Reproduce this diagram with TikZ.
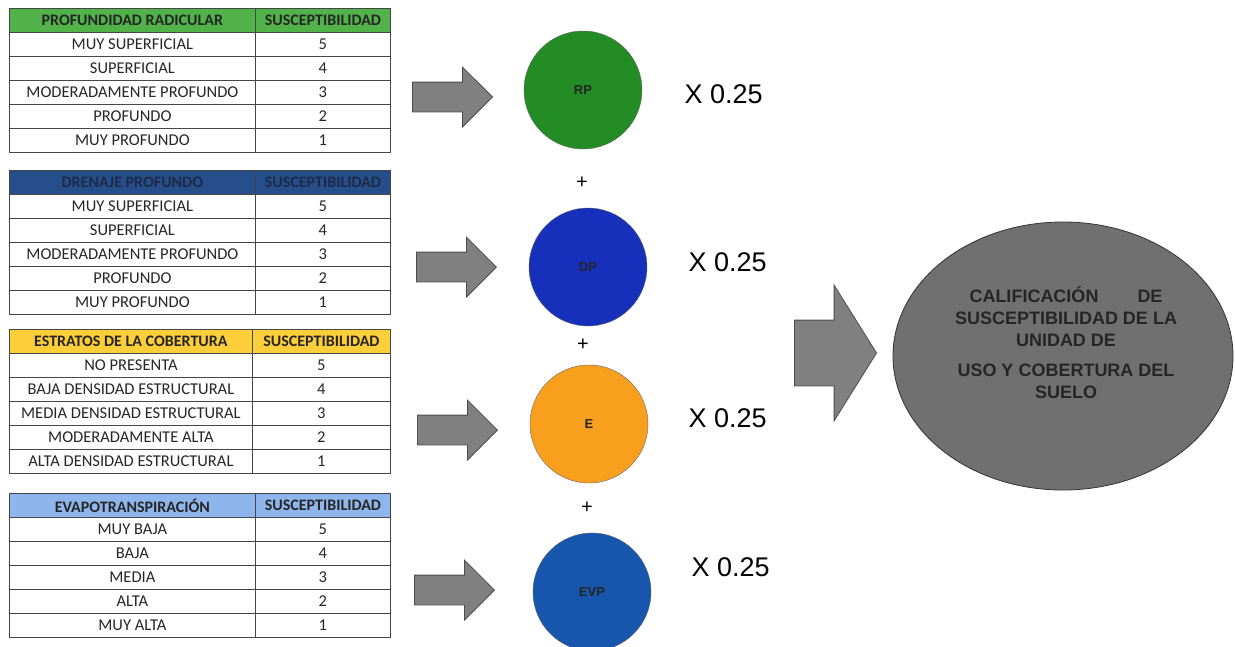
\documentclass[tikz,border=0pt]{standalone}
\usepackage{fontspec}
\setmainfont{Carlito}
\newfontfamily\arial{Liberation Sans}
\usetikzlibrary{shapes.geometric,shapes.arrows}
\definecolor{verdetabla}{RGB}{80,178,72}
\definecolor{azultabla}{RGB}{38,78,138}
\definecolor{amarillotabla}{RGB}{252,206,58}
\definecolor{celestetabla}{RGB}{142,182,236}
\definecolor{verdefactor}{RGB}{36,140,36}
\definecolor{azulfactor}{RGB}{22,48,188}
\definecolor{naranjafactor}{RGB}{248,160,30}
\definecolor{azulevp}{RGB}{22,86,172}
\definecolor{flechagris}{RGB}{128,128,128}
\definecolor{elipsegris}{RGB}{112,112,112}
\definecolor{lineagris}{RGB}{70,70,70}

\begin{document}
\begin{tikzpicture}[x=1pt,y=-1pt,
  celda/.style={draw=lineagris, line width=0.8pt, anchor=north west, minimum height=24pt, inner sep=0pt, font=\fontsize{16.5}{18}\selectfont, text=black!85},
  cabecera/.style={celda, font=\fontsize{16}{18}\selectfont\bfseries},
  flecha/.style={single arrow, draw=black!70, fill=flechagris, line width=0.8pt, inner xsep=0pt, inner ysep=14.5pt, minimum height=80pt, single arrow head extend=15pt, anchor=tip},
  factor/.style={circle, draw=black!60, minimum size=118pt, inner sep=0pt, font=\arial\bfseries\fontsize{13}{15}\selectfont, text=black!85},
  peso/.style={anchor=west, font=\arial\fontsize{27}{30}\selectfont},
  suma/.style={font=\arial\fontsize{20}{22}\selectfont}]

\useasboundingbox (0,0) rectangle (1235,646);

% Tabla 1: profundidad radicular
\node[cabecera, fill=verdetabla, minimum width=246pt] (t1h) at (9,8) {PROFUNDIDAD RADICULAR};
\node[cabecera, fill=verdetabla, minimum width=135pt] (t1s) at (255,8) {SUSCEPTIBILIDAD};
\foreach \txt/\val [count=\i] in {MUY SUPERFICIAL/5, SUPERFICIAL/4, MODERADAMENTE PROFUNDO/3, PROFUNDO/2, MUY PROFUNDO/1} {
  \node[celda, minimum width=246pt] (t1a\i) at (9,{8+24*\i}) {\txt};
  \node[celda, minimum width=135pt] (t1b\i) at (255,{8+24*\i}) {\val};
}

% Tabla 2: drenaje profundo
\node[cabecera, fill=azultabla, text={rgb,255:red,30;green,42;blue,72}, minimum width=246pt] (t2h) at (9,170) {DRENAJE PROFUNDO};
\node[cabecera, fill=azultabla, text={rgb,255:red,30;green,42;blue,72}, minimum width=135pt] (t2s) at (255,170) {SUSCEPTIBILIDAD};
\foreach \txt/\val [count=\i] in {MUY SUPERFICIAL/5, SUPERFICIAL/4, MODERADAMENTE PROFUNDO/3, PROFUNDO/2, MUY PROFUNDO/1} {
  \node[celda, minimum width=246pt] (t2a\i) at (9,{170+24*\i}) {\txt};
  \node[celda, minimum width=135pt] (t2b\i) at (255,{170+24*\i}) {\val};
}

% Tabla 3: estratos de la cobertura
\node[cabecera, fill=amarillotabla, minimum width=243pt] (t3h) at (9,329) {ESTRATOS DE LA COBERTURA};
\node[cabecera, fill=amarillotabla, minimum width=138pt] (t3s) at (252,329) {SUSCEPTIBILIDAD};
\foreach \txt/\val [count=\i] in {NO PRESENTA/5, BAJA DENSIDAD ESTRUCTURAL/4, MEDIA DENSIDAD ESTRUCTURAL/3, MODERADAMENTE ALTA/2, ALTA DENSIDAD ESTRUCTURAL/1} {
  \node[celda, minimum width=243pt] (t3a\i) at (9,{329+24*\i}) {\txt};
  \node[celda, minimum width=138pt] (t3b\i) at (252,{329+24*\i}) {\val};
}

% Tabla 4: evapotranspiracion
\node[cabecera, fill=celestetabla, minimum width=246pt] (t4h) at (9,493) {EVAPOTRANSPIRACIÓN};
\node[cabecera, fill=celestetabla, minimum width=135pt] (t4s) at (255,493) {SUSCEPTIBILIDAD};
\foreach \txt/\val [count=\i] in {MUY BAJA/5, BAJA/4, MEDIA/3, ALTA/2, MUY ALTA/1} {
  \node[celda, minimum width=246pt] (t4a\i) at (9,{493+24*\i}) {\txt};
  \node[celda, minimum width=135pt] (t4b\i) at (255,{493+24*\i}) {\val};
}

% Flechas hacia los factores
\node[flecha] (f1) at (493,97) {};
\node[flecha] (f2) at (497,267) {};
\node[flecha] (f3) at (498,430) {};
\node[flecha] (f4) at (495,590) {};

% Factores
\node[factor, fill=verdefactor] (rp) at (583,90) {RP};
\node[factor, fill=azulfactor] (dp) at (588,267) {DP};
\node[factor, fill=naranjafactor] (e) at (589,424) {E};
\node[factor, fill=azulevp] (evp) at (592,592) {EVP};

\node[suma] (s1) at (582,183) {+};
\node[suma] (s2) at (583,345) {+};
\node[suma] (s3) at (587,508) {+};

\node[peso] (p1) at (681,94) {X 0.25};
\node[peso] (p2) at (685,262) {X 0.25};
\node[peso] (p3) at (685,418) {X 0.25};
\node[peso] (p4) at (688,567) {X 0.25};

% Resultado
\node[flecha, inner ysep=32.5pt, minimum height=82pt, single arrow head extend=35pt, single arrow tip angle=116] (ftotal) at (877,353) {};
\node[ellipse, draw=black!80, fill=elipsegris, line width=0.8pt, minimum width=340pt, minimum height=268pt] (cal) at (1063,356) {};
\node[font=\arial\bfseries\fontsize{18}{22}\selectfont, align=center, text=black!85] (caltxt) at (1066,343)
  {\makebox[193pt]{CALIFICACIÓN\hfill DE}\\ SUSCEPTIBILIDAD DE LA\\ UNIDAD DE\\[8pt] USO Y COBERTURA DEL\\ SUELO};
\end{tikzpicture}
\end{document}
